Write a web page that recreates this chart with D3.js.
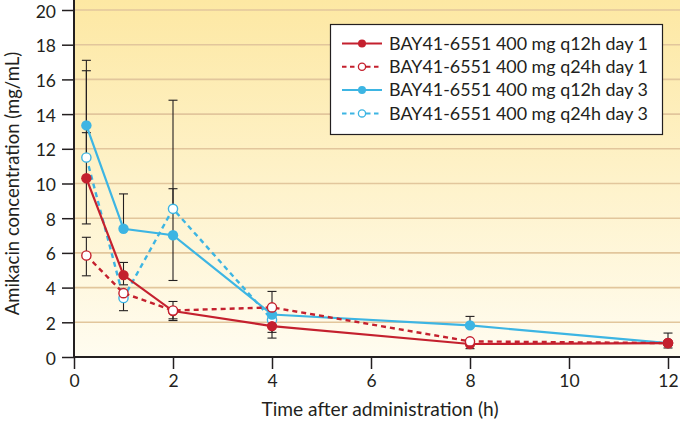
<!DOCTYPE html>
<html><head><meta charset="utf-8">
<script src="https://cdn.jsdelivr.net/npm/d3@7"></script>
<style>body{margin:0;background:#fff}svg{display:block}text{font-family:Lato,"Open Sans",sans-serif;fill:#231f20}</style>
</head><body><svg id="c" width="680" height="421"></svg>
<script>
const times = [0.25, 1, 2, 4, 8, 12];
const seriesNames = ["BAY41-6551 400 mg q12h day 1","BAY41-6551 400 mg q24h day 1","BAY41-6551 400 mg q12h day 3","BAY41-6551 400 mg q24h day 3"];
const q12d1 = [10.3, 4.72, 2.65, 1.78, 0.75, 0.8];
const q12d1Low = [7.67, 4.16, 2.2, 1.42, 0.48, 0.52];
const q12d1High = [12.93, 5.45, 3.2, 2.15, null, 1.38];
const q24d1 = [5.85, 3.68, 2.68, 2.86, 0.9, 0.8];
const q24d1Low = [4.68, 2.67, 2.1, 1.09, null, null];
const q24d1High = [6.9, null, null, 3.78, null, null];
const q12d3 = [13.35, 7.39, 7.02, 2.45, 1.82, 0.8];
const q12d3Low = [null, null, 4.41, null, null, null];
const q12d3High = [17.1, 9.4, 9.7, null, 2.34, null];
const q24d3 = [11.5, 3.4, 8.54, 2.15];
const q24d3Low = [null, null, null, null];
const q24d3High = [16.5, null, 14.8, null];
const xTicks = [0, 2, 4, 6, 8, 10, 12];
const yTicks = [0, 2, 4, 6, 8, 10, 12, 14, 16, 18, 20];

const RED = "#c4202e", BLUE = "#3db5e3";
const series = [
  {name: seriesNames[3], v: q24d3, lo: q24d3Low, hi: q24d3High, color: BLUE, dashed: true},
  {name: seriesNames[2], v: q12d3, lo: q12d3Low, hi: q12d3High, color: BLUE, dashed: false},
  {name: seriesNames[0], v: q12d1, lo: q12d1Low, hi: q12d1High, color: RED, dashed: false},
  {name: seriesNames[1], v: q24d1, lo: q24d1Low, hi: q24d1High, color: RED, dashed: true}
];
const legendOrder = [2, 3, 1, 0];

const svg = d3.select("#c");
const x = d3.scaleLinear().domain([0, 12]).range([74, 668]);
const y = d3.scaleLinear().domain([0, 20]).range([357, 10]);

const defs = svg.append("defs");
const g = defs.append("linearGradient").attr("id","bg").attr("x1",0).attr("y1",0).attr("x2",0).attr("y2",1);
g.append("stop").attr("offset","0%").attr("stop-color","#fde8a3");
g.append("stop").attr("offset","100%").attr("stop-color","#fffcf0");
svg.append("rect").attr("x",74).attr("y",0).attr("width",606).attr("height",357).attr("fill","url(#bg)");

// grid
svg.append("g").selectAll("line").data(yTicks.filter(d=>d>0)).join("line")
  .attr("x1",74).attr("x2",680).attr("y1",d=>y(d)).attr("y2",d=>y(d))
  .attr("stroke","#e2c69c").attr("stroke-width",1.6);

// axes
const yAx = svg.append("g").attr("transform","translate(74,0)")
  .call(d3.axisLeft(y).tickValues(yTicks).tickSize(12).tickPadding(6).tickFormat(d3.format("d")));
const xAx = svg.append("g").attr("transform","translate(0,357)")
  .call(d3.axisBottom(x).tickValues(xTicks).tickSize(12).tickPadding(6).tickFormat(d3.format("d")));
[yAx, xAx].forEach(a => {
  a.select(".domain").remove();
  a.selectAll(".tick line").attr("stroke","#231f20").attr("stroke-width",1.5);
  a.selectAll(".tick text").attr("font-size",17.5).attr("fill","#231f20");
});
yAx.selectAll(".tick text").attr("dy","0.4em");
svg.append("line").attr("x1",74).attr("x2",74).attr("y1",0).attr("y2",358).attr("stroke","#231f20").attr("stroke-width",2);
svg.append("line").attr("x1",73).attr("x2",680).attr("y1",357).attr("y2",357).attr("stroke","#231f20").attr("stroke-width",2);

// error bars
const eb = svg.append("g");
series.forEach(s => {
  s.v.forEach((val, i) => {
    const lo = s.lo[i] == null ? val : s.lo[i];
    const hi = s.hi[i] == null ? val : s.hi[i];
    const cx = x(times[i]);
    if (lo !== hi) eb.append("line").attr("x1",cx).attr("x2",cx).attr("y1",y(lo)).attr("y2",y(hi)).attr("stroke","#231f20").attr("stroke-width",1.1);
    [s.lo[i], s.hi[i]].forEach(e => {
      if (e != null) eb.append("line").attr("x1",cx-4.5).attr("x2",cx+4.5).attr("y1",y(e)).attr("y2",y(e)).attr("stroke","#231f20").attr("stroke-width",1.1);
    });
  });
});

// lines and markers
const line = d3.line().x((d,i)=>x(times[i])).y(d=>y(d));
series.forEach(s => {
  svg.append("path").datum(s.v).attr("d", line).attr("fill","none")
    .attr("stroke", s.color).attr("stroke-width", s.dashed ? 2.4 : 2.2)
    .attr("stroke-dasharray", s.dashed ? "5,4" : null);
});
function marker(sel, s) {
  sel.attr("r", s.dashed ? 4.6 : 5.2)
    .attr("fill", s.dashed ? "#fff" : s.color)
    .attr("stroke", s.color).attr("stroke-width", s.dashed ? 1.4 : 0);
}
series.forEach(s => {
  svg.append("g").selectAll("circle").data(s.v).join("circle")
    .attr("cx",(d,i)=>x(times[i])).attr("cy",d=>y(d)).call(marker, s);
});
// final q12h day 1 marker sits on top in the original
const last = series[2];
svg.append("circle").attr("cx", x(times[times.length-1])).attr("cy", y(last.v[last.v.length-1])).call(marker, last);

// legend
const lg = svg.append("g");
lg.append("rect").attr("x",330.5).attr("y",24.5).attr("width",332).attr("height",110)
  .attr("fill","#fff").attr("stroke","#231f20").attr("stroke-width",1.2);
legendOrder.forEach((si, k) => {
  const s = series[si];
  const cy = 43.5 + k*23.3;
  lg.append("line").attr("x1",342).attr("x2",382).attr("y1",cy).attr("y2",cy)
    .attr("stroke", s.color).attr("stroke-width",2).attr("stroke-dasharray", s.dashed ? "4.5,3.5" : null);
  lg.append("circle").attr("cx",362).attr("cy",cy).attr("r", s.dashed ? 3.6 : 4)
    .attr("fill", s.dashed ? "#fff" : s.color).attr("stroke", s.color).attr("stroke-width", s.dashed ? 1.3 : 0);
  lg.append("text").attr("x",389).attr("y",cy).attr("dy","0.35em").attr("font-size",17.9).text(s.name);
});

// axis titles
svg.append("text").attr("x",380).attr("y",416).attr("text-anchor","middle").attr("font-size",19.2).text("Time after administration (h)");
svg.append("text").attr("transform","translate(19,"+y(10)+") rotate(-90)").attr("text-anchor","middle").attr("font-size",18.5).text("Amikacin concentration (mg/mL)");
</script></body></html>
